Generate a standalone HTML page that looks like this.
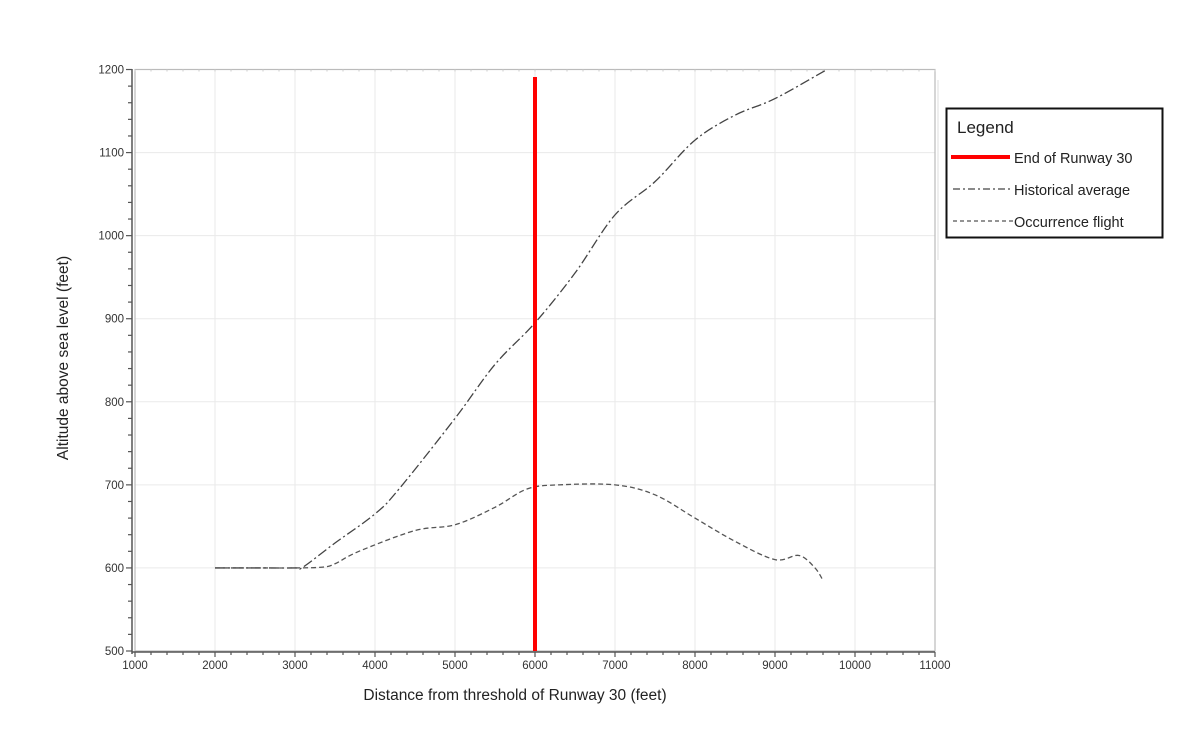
<!DOCTYPE html>
<html><head><meta charset="utf-8"><style>
body{margin:0;background:#fff;}
svg{display:block;font-family:"Liberation Sans",sans-serif;}
</style></head><body>
<svg id="s" width="1200" height="746" xmlns="http://www.w3.org/2000/svg">
<g id="grid"></g>
<rect x="135" y="69.5" width="800" height="581.5" fill="none" stroke="#bbb" stroke-width="1.2"/>
<line x1="132" y1="69" x2="132" y2="654" stroke="#555" stroke-width="1.5"/>
<line x1="132" y1="652" x2="935" y2="652" stroke="#555" stroke-width="1.5"/>
<line x1="938" y1="80" x2="938" y2="260" stroke="#ddd" stroke-width="1"/>
<g id="ticks"></g>
<path id="hist" fill="none" stroke="#444" stroke-width="1.3" stroke-dasharray="10,3,2,3"/>
<path id="occ" fill="none" stroke="#555" stroke-width="1.3" stroke-dasharray="5,3"/>
<line x1="535" y1="77" x2="535" y2="651" stroke="#f00" stroke-width="4"/>
<text x="515" y="700" font-size="15.5" fill="#222" text-anchor="middle">Distance from threshold of Runway 30 (feet)</text>
<text transform="translate(68,358) rotate(-90)" font-size="15.5" fill="#222" text-anchor="middle">Altitude above sea level (feet)</text>
<rect x="946.5" y="108.5" width="216" height="129" fill="#fff" stroke="#111" stroke-width="2"/>
<text x="957" y="133" font-size="17" fill="#222">Legend</text>
<line x1="951" y1="157" x2="1010" y2="157" stroke="#f00" stroke-width="4"/>
<text x="1014" y="163" font-size="14.5" fill="#222">End of Runway 30</text>
<line x1="953" y1="189" x2="1013" y2="189" stroke="#444" stroke-width="1.2" stroke-dasharray="7,3,2,3"/>
<text x="1014" y="195" font-size="14.5" fill="#222">Historical average</text>
<line x1="953" y1="221" x2="1013" y2="221" stroke="#555" stroke-width="1.2" stroke-dasharray="4,3"/>
<text x="1014" y="227" font-size="14.5" fill="#222">Occurrence flight</text>
</svg>
<script>
var NS="http://www.w3.org/2000/svg";
function X(v){return 135+(v-1000)*0.08;}
function Y(v){return 651-(v-500)*0.8307;}
function el(p,t,a,txt){var e=document.createElementNS(NS,t);for(var k in a)e.setAttribute(k,a[k]);if(txt)e.textContent=txt;document.getElementById(p).appendChild(e);}
for(var v=2000;v<=10000;v+=1000)el("grid","line",{x1:X(v),x2:X(v),y1:69.5,y2:651,stroke:"#eaeaea","stroke-width":1});
for(var v=600;v<=1100;v+=100)el("grid","line",{x1:135,x2:935,y1:Y(v),y2:Y(v),stroke:"#eaeaea","stroke-width":1});
for(var v=1000;v<=11000;v+=200){var maj=v%1000==0;el("ticks","line",{x1:X(v),x2:X(v),y1:652,y2:maj?657:655,stroke:"#555","stroke-width":1.2});
 el("ticks","line",{x1:X(v),x2:X(v),y1:69.5,y2:71.5,stroke:"#ccc","stroke-width":1});
 if(maj)el("ticks","text",{x:X(v),y:669,"font-size":11.5,fill:"#333","text-anchor":"middle"},String(v));}
for(var v=500;v<=1200;v+=20){var maj=v%100==0;el("ticks","line",{x1:maj?126:128,x2:132,y1:Y(v),y2:Y(v),stroke:"#555","stroke-width":1.2});
 if(maj)el("ticks","text",{x:124,y:Y(v)+4,"font-size":11.5,fill:"#333","text-anchor":"end"},String(v));}
function path(pts){var p=pts.map(function(d){return[X(d[0]),Y(d[1])]});var s="M"+p[0][0]+","+p[0][1];
 for(var i=0;i<p.length-1;i++){var p0=p[i-1]||p[i],p1=p[i],p2=p[i+1],p3=p[i+2]||p2;
 s+=" C"+(p1[0]+(p2[0]-p0[0])/6)+","+(p1[1]+(p2[1]-p0[1])/6)+" "+(p2[0]-(p3[0]-p1[0])/6)+","+(p2[1]-(p3[1]-p1[1])/6)+" "+p2[0]+","+p2[1];}return s;}
document.getElementById("hist").setAttribute("d",path([[2000,600],[2500,600],[3000,600],[3100,601],[3500,630],[4000,665],[4300,695],[5000,780],[5500,845],[6000,895],[6500,955],[7000,1025],[7500,1065],[8000,1115],[8500,1145],[9000,1165],[9650,1200]]));
document.getElementById("occ").setAttribute("d",path([[2000,600],[2500,600],[3000,600],[3350,601],[3500,605],[3800,620],[4500,645],[5000,652],[5500,673],[5900,695],[6300,700],[7000,700],[7500,688],[8000,660],[8500,632],[9000,610],[9300,615],[9500,600],[9600,585]]));
</script>
</body></html>
